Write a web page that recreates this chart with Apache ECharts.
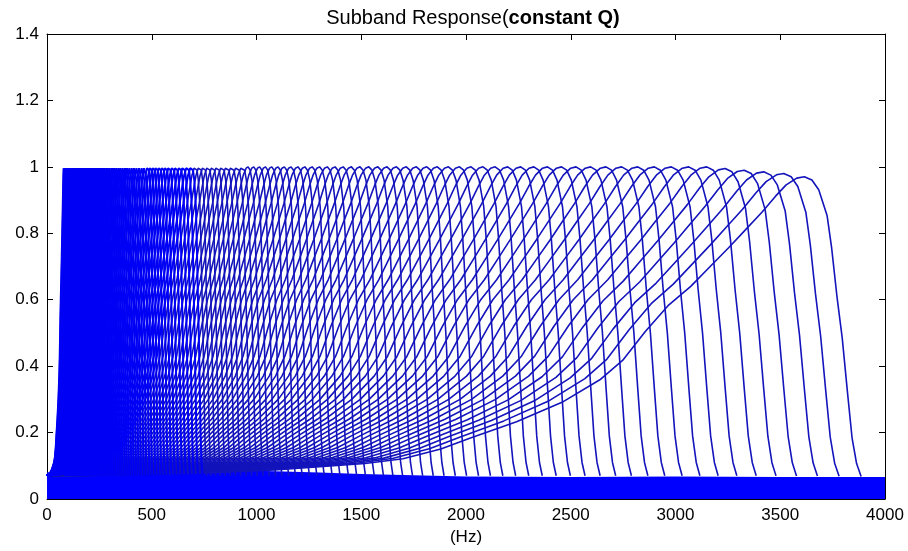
<!DOCTYPE html>
<html lang="en">
<head>
<meta charset="UTF-8">
<title>Subband Response</title>
<script src="https://cdn.jsdelivr.net/npm/echarts@6/dist/echarts.min.js"></script>
<style>
    html, body { margin: 0; padding: 0; background: #fff; }
    #main { width: 908px; height: 551px; }
</style>
</head>
<body>
<div id="main"></div>
<script type="text/javascript">
    // centre frequency of each band (Hz), constant Q spacing
    var centerHz = [
        80, 82, 85, 87, 89, 92, 94, 97, 100, 103,
        105, 108, 111, 115, 118, 121, 124, 128, 132, 135,
        139, 143, 147, 151, 155, 160, 164, 169, 173, 178,
        183, 188, 194, 199, 205, 210, 216, 222, 228, 235,
        241, 248, 255, 262, 270, 277, 285, 293, 301, 310,
        318, 327, 336, 346, 355, 365, 376, 386, 397, 408,
        419, 431, 443, 456, 468, 482, 495, 509, 523, 538,
        553, 568, 584, 601, 617, 635, 652, 671, 690, 709,
        729, 749, 770, 792, 814, 837, 860, 884, 909, 934,
        960, 987, 1015, 1043, 1073, 1103, 1133, 1165, 1198, 1231,
        1266, 1301, 1338, 1375, 1414, 1453, 1494, 1536, 1579, 1623,
        1668, 1715, 1763, 1813, 1863, 1916, 1969, 2024, 2081, 2139,
        2199, 2261, 2324, 2389, 2456, 2525, 2595, 2668, 2743, 2820,
        2899, 2980, 3063, 3149, 3237, 3328, 3421, 3517, 3615
    ];
    // peaks reach 1 except the last few bands
    var lastPeaks = [0.995, 0.99, 0.985, 0.98, 0.97];

    // response shape of one band: frequency / centre -> gain
    var shapeRatio = [0, 0.20, 0.30, 0.36, 0.42, 0.47, 0.52, 0.56, 0.62, 0.68,
        0.73, 0.76, 0.79, 0.82, 0.85, 0.875, 0.90, 0.92, 0.944, 0.962,
        0.976, 0.99, 1.00, 1.01, 1.019, 1.030, 1.036, 1.043, 1.050, 1.057,
        1.063, 1.069, 1.075];
    var shapeGain = [0.07, 0.08, 0.09, 0.10, 0.11, 0.125, 0.155, 0.19, 0.24, 0.30,
        0.37, 0.43, 0.52, 0.60, 0.66, 0.72, 0.78, 0.83, 0.89, 0.94,
        0.975, 0.996, 1.00, 0.99, 0.96, 0.88, 0.78, 0.63, 0.50, 0.33,
        0.19, 0.11, 0.07];

    // sidelobe floor (solid band along the bottom)
    var floorHz = [0, 500, 1000, 1300, 1500, 2000, 2500, 3000, 3500, 4000];
    var floorGain = [0.08, 0.085, 0.085, 0.08, 0.075, 0.068, 0.066, 0.068, 0.066, 0.066];

    var blue = '#0000ff';
    var font = 'Liberation Sans, Arial, sans-serif';

    var series = [{
        type: 'line',
        data: floorHz.map(function (h, i) { return [h, floorGain[i]]; }),
        symbol: 'none',
        lineStyle: { width: 0 },
        areaStyle: { color: blue, opacity: 1 },
        silent: true,
        z: 1
    }];
    var firstTop = centerHz.length - lastPeaks.length;
    centerHz.forEach(function (fc, b) {
        var pk = b >= firstTop ? lastPeaks[b - firstTop] : 1;
        // dense low bands render as solid blue, sparse ones as darker thin lines
        var low = fc < 700;
        series.push({
            type: 'line',
            data: shapeRatio.map(function (r, i) { return [fc * r, pk * shapeGain[i]]; }),
            symbol: 'none',
            lineStyle: { color: low ? '#0000f5' : '#1414bc', width: low ? 2 : 1.6 },
            silent: true,
            z: low ? 3 : 2
        });
    });

    var axisBlack = { show: true, onZero: false, lineStyle: { color: '#000', width: 1 } };
    var tickIn = { show: true, inside: true, length: 6, lineStyle: { color: '#000' } };

    var myChart = echarts.init(document.getElementById('main'));
    var option = {
        animation: false,
        backgroundColor: '#fff',
        title: {
            text: '{n|Subband Response(}{b|constant Q)}',
            left: 468,
            textAlign: 'center',
            top: 3,
            textStyle: {
                fontWeight: 'normal',
                rich: {
                    n: { fontFamily: font, fontSize: 20, fontWeight: 'normal', color: '#000' },
                    b: { fontFamily: font, fontSize: 20, fontWeight: 'bold', color: '#000' }
                }
            }
        },
        grid: { left: 47, right: 23, top: 34, bottom: 51 },
        xAxis: [{
            type: 'value', min: 0, max: 4000, interval: 500, position: 'bottom',
            axisLine: axisBlack, axisTick: tickIn, splitLine: { show: false },
            axisLabel: { color: '#000', fontSize: 17, fontFamily: font, margin: 8,
                formatter: function (v) { return String(v); } },
            name: '(Hz)', nameLocation: 'middle', nameGap: 30,
            nameTextStyle: { color: '#000', fontSize: 17, fontFamily: font }
        }, {
            type: 'value', min: 0, max: 4000, interval: 500, position: 'top',
            axisLine: axisBlack, axisTick: tickIn, splitLine: { show: false },
            axisLabel: { show: false }
        }],
        yAxis: [{
            type: 'value', min: 0, max: 1.4, interval: 0.2, position: 'left',
            axisLine: axisBlack, axisTick: tickIn, splitLine: { show: false },
            axisLabel: { color: '#000', fontSize: 17, fontFamily: font, margin: 8 }
        }, {
            type: 'value', min: 0, max: 1.4, interval: 0.2, position: 'right',
            axisLine: axisBlack, axisTick: tickIn, splitLine: { show: false },
            axisLabel: { show: false }
        }],
        series: series
    };
    myChart.setOption(option);
</script>
</body>
</html>
